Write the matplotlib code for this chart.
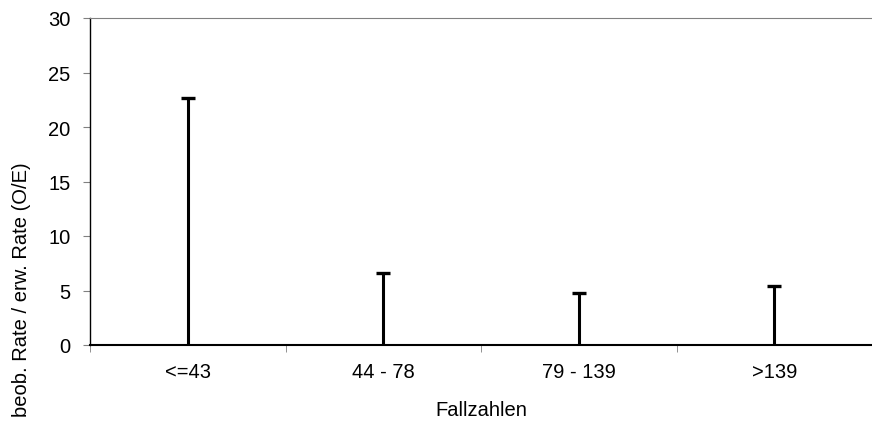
import matplotlib.pyplot as plt
import numpy as np

plt.rcParams['font.family'] = ['Liberation Sans', 'DejaVu Sans']

categories = ['<=43', '44 - 78', '79 - 139', '>139']
oe_values = [22.7, 6.6, 4.75, 5.4]
y_ticks = [0, 5, 10, 15, 20, 25, 30]

fs = 14.5
fig = plt.figure(figsize=(8.72, 4.27), dpi=100)
ax = fig.add_axes([90 / 872, 1 - 346 / 427, 1 - 90 / 872, (346 - 19) / 427])

x = np.arange(len(categories))
ax.vlines(x, 0, oe_values, color='black', lw=2.2, zorder=3)
ax.plot(x, oe_values, ls='none', marker='_', ms=9.5, mew=2.4, color='black', zorder=3)

ax.set_xlim(-0.5, len(categories) - 0.5)
ax.set_ylim(0, 30)
ax.set_yticks(y_ticks)
ax.set_xticks(x)
ax.set_xticklabels(categories)
ax.set_xticks(np.arange(len(categories) + 1) - 0.5, minor=True)
ax.tick_params(axis='x', which='major', length=0, pad=12, labelsize=fs)
ax.tick_params(axis='x', which='minor', length=5, color='#808080', direction='out')
ax.tick_params(axis='y', length=5, color='#808080', direction='out', labelsize=fs, pad=9)

ax.spines['right'].set_visible(False)
ax.spines['top'].set_color('#808080')
ax.spines['left'].set_color('black')
ax.spines['bottom'].set_color('black')
ax.spines['left'].set_linewidth(1.0)
ax.spines['bottom'].set_linewidth(1.5)

ax.set_xlabel('Fallzahlen', fontsize=fs, labelpad=14)
fig.text(22 / 872, 1 - 290 / 427, 'beob. Rate / erw. Rate (O/E)', rotation=90,
         ha='center', va='center', fontsize=fs)

fig.savefig('out.png', dpi=100)
